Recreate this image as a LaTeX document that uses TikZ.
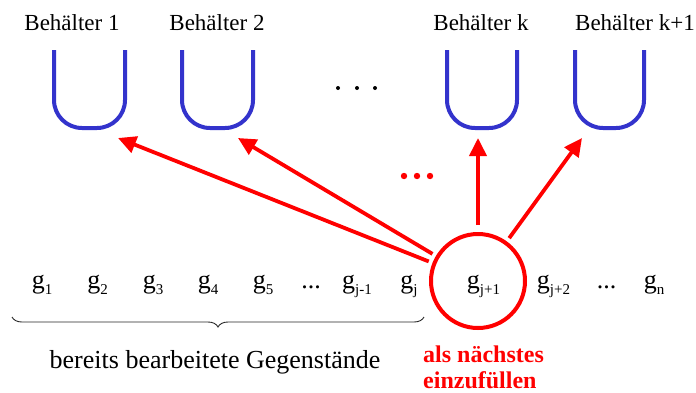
\documentclass[tikz,border=0pt]{standalone}
\usepackage{fontspec}
\setmainfont{Liberation Serif}
\usetikzlibrary{arrows.meta,decorations.pathreplacing}
\definecolor{binblue}{RGB}{51,51,204}
\definecolor{hotred}{RGB}{255,0,0}
\newcommand{\gsub}[1]{g\raisebox{-6pt}{\fontsize{15}{15}\selectfont #1}}
\tikzset{
  ubin/.style={draw=binblue,line width=4pt,rounded corners=28pt},
  binlabel/.style={anchor=base,inner sep=0pt,font=\fontsize{23}{23}\selectfont},
  glabel/.style={anchor=base,inner sep=0pt,font=\fontsize{26}{26}\selectfont},
  redarrow/.style={draw=hotred,line width=3.8pt,-{Triangle[length=18pt,width=17pt]},shorten <=4pt},
  ring/.style={circle,draw=hotred,line width=4pt,minimum size=94pt,inner sep=0pt},
  bracestyle/.style={draw=black!85,line width=0.9pt,decorate,decoration={brace,mirror,amplitude=10pt}}
}
\begin{document}
\begin{tikzpicture}[x=1pt,y=-1pt]
\useasboundingbox (0,0) rectangle (696,392);
% bin labels
\node[binlabel] (l1) at (72,30) {Behälter 1};
\node[binlabel] (l2) at (217,30) {Behälter 2};
\node[binlabel] (lk) at (481,30) {Behälter k};
\node[binlabel] (lk1) at (635,30) {Behälter k+1};
% bins
\draw[ubin] (54,50) -- (54,128) -- (125,128) -- (125,50);
\draw[ubin] (182,50) -- (182,128) -- (253,128) -- (253,50);
\draw[ubin] (447,50) -- (447,128) -- (517,128) -- (517,50);
\draw[ubin] (575,50) -- (575,128) -- (644,128) -- (644,50);
% black dots
\foreach \x in {338,357,375} \fill[black] (\x,88) circle (2);
% red dots
\foreach \x in {404,417,430} \fill[hotred] (\x,176) circle (3.2);
% arrow targets
\coordinate (t1) at (118,138);
\coordinate (t2) at (238,138);
\coordinate (tk) at (478,138);
\coordinate (tk1) at (582,138);
% circle
\node[ring] (circ) at (478,281) {};
\draw[redarrow] (circ) -- (t1);
\draw[redarrow] (circ) -- (t2);
\draw[redarrow,shorten <=7pt] (circ) -- (tk);
\draw[redarrow] (circ) -- (tk1);
% items
\node[glabel] (g1) at (42,288) {\gsub{1}};
\node[glabel] (g2) at (97.5,288) {\gsub{2}};
\node[glabel] (g3) at (153,288) {\gsub{3}};
\node[glabel] (g4) at (208,288) {\gsub{4}};
\node[glabel] (g5) at (263,288) {\gsub{5}};
\node[glabel] (gd1) at (311,288) {...};
\node[glabel] (gjm) at (357,288) {\gsub{j-1}};
\node[glabel] (gj) at (409,288) {\gsub{j}};
\node[glabel] (gjp) at (483.5,288) {\gsub{j+1}};
\node[glabel] (gjpp) at (553.5,288) {\gsub{j+2}};
\node[glabel] (gd2) at (606.5,288) {...};
\node[glabel] (gn) at (654,288) {\gsub{n}};
% brace
\coordinate (bl) at (12,317);
\coordinate (br) at (424,317);
\draw[bracestyle] (bl) -- (br);
\node[glabel] (done) at (215,368) {bereits bearbeitete Gegenstände};
% red caption
\node[anchor=base west,inner sep=0pt,text=hotred,font=\fontsize{24}{26}\selectfont\bfseries,align=left] (next) at (423,388) {als nächstes\\einzufüllen};
\end{tikzpicture}
\end{document}
